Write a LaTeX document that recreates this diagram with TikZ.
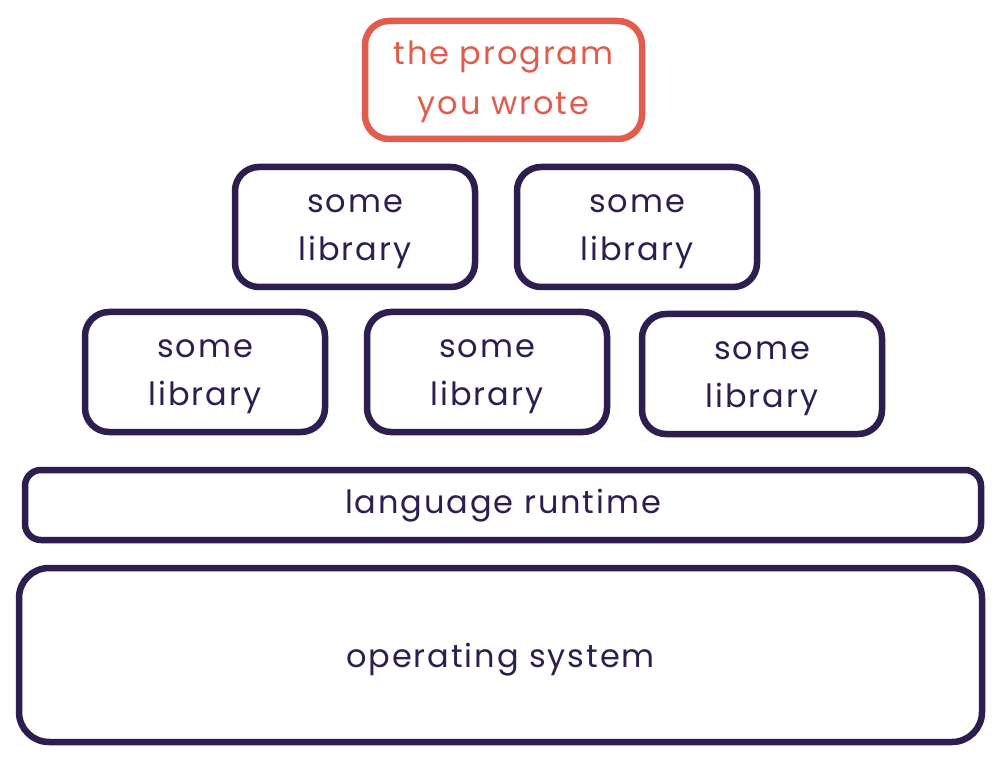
\documentclass[tikz,border=0pt]{standalone}
\usepackage{fontspec}
\setmainfont{Poppins}[LetterSpace=6]
\definecolor{ink}{HTML}{2D1E4F}
\definecolor{coral}{HTML}{E05D4E}
\tikzset{
  box/.style={draw=ink, line width=6.5pt, rounded corners=24pt, inner sep=0pt},
  redbox/.style={box, draw=coral},
  lbl/.style={inner sep=0pt, align=center, text=ink, font=\fontsize{32}{48}\selectfont},
  redlbl/.style={lbl, text=coral, font=\fontsize{32}{50}\selectfont},
}
\begin{document}
\begin{tikzpicture}[x=1pt,y=-1pt]
\useasboundingbox[fill=white] (0,0) rectangle (1002,762);
\node[redbox, minimum width=277pt, minimum height=118pt] (prog) at (503.5,80) {};
\node[box, minimum width=240pt, minimum height=120pt] (l1) at (355,227) {};
\node[box, minimum width=240pt, minimum height=120pt] (l2) at (637,227) {};
\node[box, minimum width=240pt, minimum height=120pt] (l3) at (205,372) {};
\node[box, minimum width=240pt, minimum height=120pt] (l4) at (487,372) {};
\node[box, minimum width=240pt, minimum height=120pt] (l5) at (762,374) {};
\node[box, minimum width=956pt, minimum height=70pt, rounded corners=16pt] (rt) at (503,505) {};
\node[box, minimum width=963pt, minimum height=174pt, rounded corners=30pt] (os) at (500.5,655) {};
\node[redlbl] (tprog) at ([yshift=-2pt]prog.center) {the program\\you wrote};
\node[lbl] (t1) at ([yshift=-5pt]l1.center) {some\\library};
\node[lbl] (t2) at ([yshift=-5pt]l2.center) {some\\library};
\node[lbl] (t3) at ([yshift=-5pt]l3.center) {some\\library};
\node[lbl] (t4) at ([yshift=-5pt]l4.center) {some\\library};
\node[lbl] (t5) at ([yshift=-5pt]l5.center) {some\\library};
\node[lbl] (trt) at ([yshift=-1pt]rt.center) {language runtime};
\node[lbl] (tos) at ([yshift=-5pt]os.center) {operating system};
\end{tikzpicture}
\end{document}
